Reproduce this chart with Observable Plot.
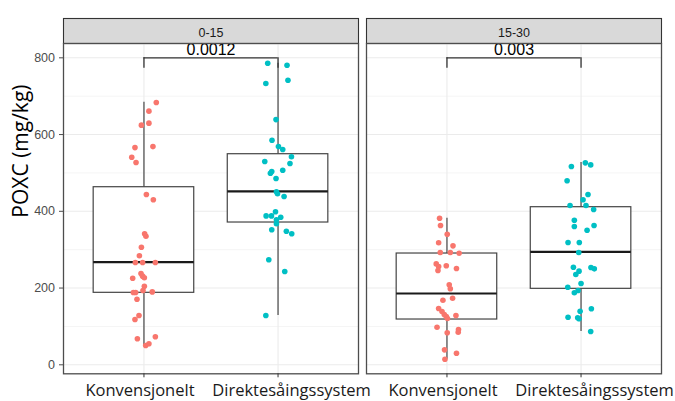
<!DOCTYPE html>
<html><head><meta charset="utf-8">
<script src="https://cdn.jsdelivr.net/npm/d3@7"></script>
<script src="https://cdn.jsdelivr.net/npm/@observablehq/plot@0.6"></script>
<style>html,body{margin:0;padding:0;background:#fff;overflow:hidden}</style>
</head><body><div id="chart"></div>
<script>
// ---- data ----
const depths = ["0-15", "15-30"];
const treatments = ["Konvensjonelt", "Direktesåingssystem"];
const treatmentColors = ["#F8766D", "#00BFC4"];
const yTicks = [0, 200, 400, 600, 800];
const yMinorTicks = [100, 300, 500, 700];
const yLabel = "POXC (mg/kg)";

// observations (POXC) and horizontal jitter (fraction of a category step)
const konv015 = [683.5, 661, 624.5, 629.7, 566, 568.6, 541, 527, 443.8, 430, 341.4, 335, 306.5, 284, 266.6, 266.6, 266.6, 238, 231, 225.7, 226.7, 204.8, 188.4, 188.4, 193.6, 190, 171, 128.5, 118, 67.8, 73, 50.3, 54.7];
const konv015Jitter = [0.092, 0.037, -0.019, 0.037, -0.067, 0.067, -0.091, -0.059, 0.018, 0.070, 0.005, 0.015, -0.019, -0.034, -0.064, -0.010, 0.085, -0.022, -0.010, -0.084, 0.003, 0.003, -0.079, -0.062, -0.007, 0.062, -0.052, -0.037, -0.067, -0.049, 0.085, 0.013, 0.037];
const direkt015 = [786, 780.8, 733, 741.6, 639, 585, 568.6, 561, 542, 529.8, 524.6, 507, 503.7, 499.3, 485.5, 450.8, 445.6, 438.6, 388, 388, 398.7, 384.6, 378, 367.4, 351.8, 348, 341.4, 273.6, 243, 128.5];
const direkt015Jitter = [-0.077, 0.067, -0.091, 0.074, -0.015, -0.045, 0.003, 0.035, 0.100, -0.099, 0.089, 0.035, -0.047, -0.057, -0.015, -0.012, -0.004, 0.045, -0.089, -0.049, -0.019, 0.020, -0.012, -0.012, -0.047, 0.062, 0.102, -0.069, 0.050, -0.091];
const konv1530 = [382, 363, 340.3, 318, 310, 292.6, 292.6, 290.8, 263, 256.3, 258, 245.7, 251, 208.5, 198, 168.3, 173.5, 146.7, 138.9, 131, 125.9, 120.7, 128.5, 98, 83.4, 92, 85, 39, 30.2, 14.6];
const konv1530Jitter = [-0.055, -0.048, 0.002, -0.062, 0.045, -0.050, 0.025, 0.091, -0.080, -0.062, -0.005, -0.067, 0.071, 0.017, 0.025, -0.030, 0.042, -0.062, -0.037, -0.020, -0.005, 0.004, 0.067, -0.074, 0.002, 0.086, 0.084, -0.018, 0.071, -0.015];
const direkt1530 = [516.7, 526.3, 521, 479.5, 443.8, 430, 415, 415, 404.7, 376.8, 360.4, 350.8, 363, 318.7, 318.7, 292.6, 254.3, 244, 235.3, 253.5, 250, 211.9, 202.2, 193.6, 187.6, 139.7, 146, 124, 122.4, 120, 86.8];
const direkt1530Jitter = [-0.072, 0.032, 0.072, -0.104, 0.052, 0.015, -0.082, 0.037, 0.094, -0.050, -0.050, 0.045, 0.097, -0.097, -0.013, -0.017, -0.057, -0.015, -0.039, 0.074, 0.099, 0.000, -0.099, -0.022, -0.050, -0.007, 0.077, -0.097, -0.025, -0.015, 0.072];

// box statistics, order: 0-15 Konv, 0-15 Direkt, 15-30 Konv, 15-30 Direkt
const boxDepth = ["0-15", "0-15", "15-30", "15-30"];
const boxTreatment = ["Konvensjonelt", "Direktesåingssystem", "Konvensjonelt", "Direktesåingssystem"];
const boxLow = [50.3, 128.5, 14.6, 87];
const boxQ1 = [187.6, 370.8, 118, 198];
const boxMedian = [267.4, 452, 185.8, 294.5];
const boxQ3 = [462.8, 548.8, 290, 410.7];
const boxHigh = [684, 786, 382, 527];

// significance brackets
const pValues = ["0.0012", "0.003"];
const bracketY = [800, 800];
const bracketTip = [773, 773];

// ---- build tables ----
const xi = t => treatments.indexOf(t) + 1;
const sets = [
  [depths[0], treatments[0], konv015, konv015Jitter],
  [depths[0], treatments[1], direkt015, direkt015Jitter],
  [depths[1], treatments[0], konv1530, konv1530Jitter],
  [depths[1], treatments[1], direkt1530, direkt1530Jitter]
];
const points = sets.flatMap(([depth, treat, vals, jit]) =>
  vals.map((v, i) => ({depth, treat, v, x: xi(treat) + jit[i]})));
const boxes = boxDepth.map((depth, i) => ({
  depth, treat: boxTreatment[i], xi: xi(boxTreatment[i]),
  lo: boxLow[i], q1: boxQ1[i], med: boxMedian[i], q3: boxQ3[i], hi: boxHigh[i]
}));
const brackets = depths.map((depth, i) => ({depth, y: bracketY[i], tip: bracketTip[i], p: pValues[i]}));
const tips = brackets.flatMap(b => treatments.map(t => ({...b, xi: xi(t)})));
const titleData = [{depth: depths[0], text: yLabel}];

// ---- layout / style ----
const W = 675, H = 401, mL = 62, mR = 13.3, mT = 43, mB = 27.7;
const plotH = H - mT - mB;
const halfBox = 0.375;
const labelNudge = [-4, 13.5];
const labelFont = "'Open Sans', sans-serif";

const catLabel = k => Plot.text([treatments[k]], {
  x: d => xi(d), text: d => d, frameAnchor: "bottom", lineAnchor: "bottom",
  dy: 22.6, dx: labelNudge[k], fontSize: 16.5, fontFamily: labelFont, fill: "#1a1a1a"
});

const chart = Plot.plot({
  width: W, height: H,
  marginLeft: mL, marginRight: mR, marginTop: mT, marginBottom: mB,
  style: {fontFamily: "'Liberation Sans', Arial, sans-serif", background: "#fff", overflow: "visible"},
  fx: {domain: depths, paddingInner: 0.0254, paddingOuter: 0, axis: null, label: null},
  x: {domain: [0.4, 2.6]},
  y: {domain: [-23.45, 837.3]},
  color: {domain: treatments, range: treatmentColors},
  marks: [
    Plot.frame({fill: "#d9d9d9", stroke: "#333", strokeWidth: 1.1, insetTop: -25, insetBottom: plotH}),
    Plot.ruleY(yMinorTicks, {stroke: "#ececec", strokeWidth: 0.6}),
    Plot.ruleY(yTicks, {stroke: "#ebebeb", strokeWidth: 1.1}),
    Plot.ruleX([1, 2], {stroke: "#ebebeb", strokeWidth: 1.1}),
    Plot.ruleX(boxes, {fx: "depth", x: "xi", y1: "q3", y2: "hi", stroke: "#555", strokeWidth: 1.3}),
    Plot.ruleX(boxes, {fx: "depth", x: "xi", y1: "lo", y2: "q1", stroke: "#555", strokeWidth: 1.3}),
    Plot.rect(boxes, {fx: "depth", x1: d => d.xi - halfBox, x2: d => d.xi + halfBox, y1: "q1", y2: "q3",
      fill: "white", stroke: "#444", strokeWidth: 1.2}),
    Plot.ruleY(boxes, {fx: "depth", y: "med", x1: d => d.xi - halfBox, x2: d => d.xi + halfBox,
      stroke: "#1a1a1a", strokeWidth: 2.2}),
    Plot.dot(points, {fx: "depth", x: "x", y: "v", fill: "treat", r: 2.8}),
    Plot.ruleY(brackets, {fx: "depth", y: "y", x1: () => 1, x2: () => 2, stroke: "#333", strokeWidth: 1.3}),
    Plot.ruleX(tips, {fx: "depth", x: "xi", y1: "tip", y2: "y", stroke: "#333", strokeWidth: 1.3}),
    Plot.text(brackets, {fx: "depth", x: () => 1.5, y: "y", text: "p", lineAnchor: "bottom", dy: -2.5,
      fontSize: 16, fill: "#000"}),
    Plot.frame({stroke: "#4d4d4d", strokeWidth: 1.3}),
    Plot.axisY({ticks: yTicks, tickSize: 4, tickPadding: 4.5, fontSize: 12.5, color: "#4d4d4d",
      label: null, facetAnchor: "left"}),
    Plot.axisX({ticks: [1, 2], tickSize: 4, tickFormat: () => "", color: "#333", label: null}),
    catLabel(0),
    catLabel(1),
    Plot.text(depths, {fx: d => d, text: d => d, frameAnchor: "top", lineAnchor: "middle", dy: -10.5,
      fontSize: 12.5, fill: "#1a1a1a"}),
    Plot.text(titleData, {fx: "depth", text: "text", frameAnchor: "left", lineAnchor: "middle",
      dx: -42, dy: 9, rotate: -90, fontSize: 21, fontFamily: labelFont, fill: "#000"})
  ]
});
document.getElementById("chart").appendChild(chart);
</script>
</body></html>
